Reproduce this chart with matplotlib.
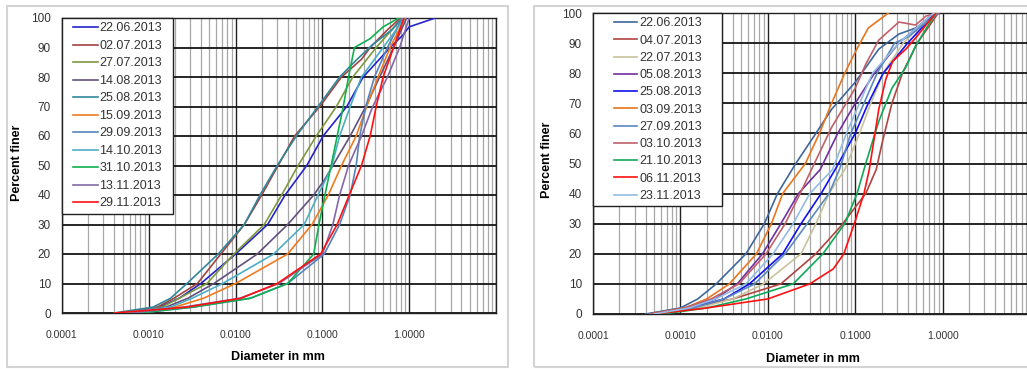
import matplotlib
matplotlib.use("Agg")
import matplotlib.pyplot as plt
from matplotlib.patches import Rectangle
from matplotlib.ticker import FixedLocator, LogLocator, NullFormatter
from matplotlib.legend_handler import HandlerLine2D

plt.rcParams['font.family'] = ['Liberation Sans', 'DejaVu Sans']

# ---- left panel (grain size curves, diameter in mm / percent finer) ----
left_labels = ['22.06.2013', '02.07.2013', '27.07.2013', '14.08.2013', '25.08.2013', '15.09.2013',
               '29.09.2013', '14.10.2013', '31.10.2013', '13.11.2013', '29.11.2013']
left_colors = ['#2424C8', '#A0443E', '#7E9840', '#62507E', '#31869C', '#F07A1E',
               '#5584BC', '#4BAEC4', '#10B050', '#8468A6', '#FF1010']

l_2206_d = [0.0005, 0.00132, 0.00224, 0.00398, 0.0100, 0.0234, 0.0372, 0.0661, 0.102, 0.191, 0.295, 0.603, 0.832, 1.0, 2.0]
l_2206_p = [0, 2, 5, 10, 20, 30, 40, 50, 60, 70, 80, 90, 94, 97, 100]
l_0207_d = [0.00045, 0.00126, 0.00195, 0.00363, 0.00676, 0.0126, 0.0200, 0.0309, 0.0479, 0.0933, 0.166, 0.282, 0.355, 0.562, 0.794]
l_0207_p = [0, 2, 5, 10, 20, 30, 40, 50, 60, 70, 80, 86, 90, 96, 100]
l_2707_d = [0.0005, 0.00141, 0.00224, 0.00468, 0.00955, 0.0214, 0.0339, 0.0525, 0.0851, 0.145, 0.224, 0.417, 0.832]
l_2707_p = [0, 2, 5, 10, 20, 30, 40, 50, 60, 70, 80, 90, 100]
l_1408_d = [0.0005, 0.00158, 0.00282, 0.00562, 0.0178, 0.0398, 0.0794, 0.105, 0.132, 0.209, 0.316, 0.457, 0.661, 0.933]
l_1408_p = [0, 2, 5, 10, 20, 30, 40, 45, 50, 60, 70, 80, 90, 100]
l_2508_d = [0.0004, 0.00112, 0.00178, 0.00275, 0.00631, 0.0126, 0.0191, 0.0302, 0.0501, 0.0891, 0.158, 0.251, 0.380, 0.631, 0.832]
l_2508_p = [0, 2, 5, 10, 20, 30, 40, 50, 60, 70, 80, 86, 91, 96, 100]
l_1509_d = [0.00063, 0.0020, 0.00427, 0.0100, 0.0398, 0.0759, 0.117, 0.166, 0.245, 0.324, 0.437, 0.603, 0.891]
l_1509_p = [0, 2, 5, 10, 20, 30, 40, 50, 60, 70, 80, 90, 100]
l_2909_d = [0.00079, 0.00331, 0.0148, 0.0398, 0.105, 0.158, 0.209, 0.245, 0.269, 0.316, 0.398, 0.562, 0.832]
l_2909_p = [0, 2, 5, 10, 20, 30, 40, 50, 60, 70, 80, 90, 100]
l_1410_d = [0.0005, 0.00178, 0.00316, 0.00708, 0.0275, 0.0617, 0.0891, 0.126, 0.158, 0.209, 0.282, 0.501, 0.891]
l_1410_p = [0, 2, 5, 10, 20, 30, 40, 49, 60, 70, 80, 90, 100]
l_3110_d = [0.00079, 0.00316, 0.0148, 0.0398, 0.0794, 0.0912, 0.107, 0.126, 0.148, 0.174, 0.200, 0.234, 0.355, 0.501, 0.759]
l_3110_p = [0, 2, 5, 10, 20, 30, 40, 50, 60, 70, 80, 90, 93, 97, 100]
l_1311_d = [0.00063, 0.00251, 0.0112, 0.0316, 0.100, 0.132, 0.158, 0.200, 0.282, 0.380, 0.562, 0.776, 1.0]
l_1311_p = [0, 2, 5, 10, 20, 30, 40, 50, 60, 70, 80, 90, 100]
l_2911_d = [0.0004, 0.00275, 0.0115, 0.0302, 0.0955, 0.148, 0.204, 0.282, 0.355, 0.417, 0.501, 0.661, 0.871]
l_2911_p = [0, 2, 5, 10, 20, 30, 40, 50, 60, 70, 80, 90, 100]

# ---- right panel ----
right_labels = ['22.06.2013', '04.07.2013', '22.07.2013', '05.08.2013', '25.08.2013', '03.09.2013',
                '27.09.2013', '03.10.2013', '21.10.2013', '06.11.2013', '23.11.2013']
right_colors = ['#3E679C', '#B0443F', '#C8C29C', '#7030A0', '#1010F0', '#E8761E',
                '#5A88C0', '#C0606A', '#10A858', '#FF1010', '#93BCE4']

r_2206_d = [0.0004, 0.0010, 0.00158, 0.00257, 0.00562, 0.00912, 0.0129, 0.0209, 0.0355, 0.0537, 0.100, 0.186, 0.316, 0.490, 0.912]
r_2206_p = [0, 2, 5, 10, 20, 30, 40, 50, 60, 68, 77, 88, 93, 95, 100]
r_0407_d = [0.0005, 0.00126, 0.00398, 0.0141, 0.0355, 0.0676, 0.132, 0.174, 0.204, 0.263, 0.347, 0.513, 0.891]
r_0407_p = [0, 2, 5, 10, 20, 29, 40, 48, 57, 70, 80, 90, 100]
r_2207_d = [0.0005, 0.00158, 0.00398, 0.00891, 0.0240, 0.0355, 0.0501, 0.0759, 0.112, 0.151, 0.209, 0.355, 0.794]
r_2207_p = [0, 2, 5, 10, 20, 30, 40, 48, 60, 70, 80, 90, 100]
r_0508_d = [0.00045, 0.00112, 0.00251, 0.00447, 0.00871, 0.0141, 0.0224, 0.0398, 0.0631, 0.100, 0.166, 0.316, 0.794]
r_0508_p = [0, 2, 5, 10, 20, 30, 40, 48, 60, 70, 80, 90, 100]
r_2508_d = [0.0005, 0.00126, 0.00316, 0.00617, 0.0148, 0.0240, 0.0407, 0.0589, 0.100, 0.141, 0.209, 0.398, 0.832]
r_2508_p = [0, 2, 5, 10, 20, 30, 40, 48, 60, 70, 80, 90, 100]
r_0309_d = [0.00045, 0.00112, 0.0020, 0.00363, 0.00741, 0.0110, 0.0148, 0.0269, 0.0389, 0.0537, 0.0759, 0.100, 0.141, 0.240]
r_0309_p = [0, 2, 5, 10, 20, 30, 40, 50, 60, 70, 80, 87, 95, 100]
r_2709_d = [0.0005, 0.00141, 0.00316, 0.00708, 0.0158, 0.0282, 0.0501, 0.0661, 0.0891, 0.126, 0.178, 0.282, 0.398, 0.891]
r_2709_p = [0, 2, 5, 10, 20, 30, 40, 48, 60, 70, 80, 90, 92, 100]
r_0310_d = [0.00045, 0.00112, 0.00224, 0.00468, 0.00955, 0.0158, 0.0234, 0.0316, 0.0537, 0.100, 0.132, 0.186, 0.316, 0.490, 0.646, 0.891]
r_0310_p = [0, 2, 5, 10, 20, 30, 40, 48, 62, 75, 83, 91, 97, 96, 99, 100]
r_2110_d = [0.00063, 0.0020, 0.00562, 0.0195, 0.0427, 0.0759, 0.105, 0.132, 0.186, 0.263, 0.380, 0.490, 0.832]
r_2110_p = [0, 2, 5, 10, 20, 30, 40, 50, 64, 75, 82, 89, 100]
r_0611_d = [0.0005, 0.0020, 0.0100, 0.0302, 0.0562, 0.0741, 0.0977, 0.126, 0.145, 0.186, 0.224, 0.269, 0.380, 0.501, 0.832]
r_0611_p = [0, 2, 5, 10, 15, 20, 30, 40, 48, 68, 78, 84, 88, 92, 100]
r_2311_d = [0.0005, 0.00126, 0.00251, 0.00562, 0.0115, 0.0195, 0.0302, 0.0550, 0.0794, 0.112, 0.158, 0.316, 0.794]
r_2311_p = [0, 2, 5, 10, 20, 30, 40, 48, 60, 70, 80, 90, 100]

left_d = [l_2206_d, l_0207_d, l_2707_d, l_1408_d, l_2508_d, l_1509_d, l_2909_d, l_1410_d, l_3110_d, l_1311_d, l_2911_d]
left_p = [l_2206_p, l_0207_p, l_2707_p, l_1408_p, l_2508_p, l_1509_p, l_2909_p, l_1410_p, l_3110_p, l_1311_p, l_2911_p]
right_d = [r_2206_d, r_0407_d, r_2207_d, r_0508_d, r_2508_d, r_0309_d, r_2709_d, r_0310_d, r_2110_d, r_0611_d, r_2311_d]
right_p = [r_2206_p, r_0407_p, r_2207_p, r_0508_p, r_2508_p, r_0309_p, r_2709_p, r_0310_p, r_2110_p, r_0611_p, r_2311_p]

x_ticks = [0.0001, 0.001, 0.01, 0.1, 1.0, 10.0]
x_ticklabels = ['0.0001', '0.0010', '0.0100', '0.1000', '1.0000', '']
y_ticks = list(range(0, 101, 10))

W, H = 1027, 369


def px(x0, y0, w, h):
    # pixel box (top-left origin) -> figure fraction
    return [x0 / W, 1 - (y0 + h) / H, w / W, h / H]


def draw_panel(ax, ds, ps, labels, colors, leg_w, leg_xpad, leg_hlen, leg_space):
    for d, p, lab, c in zip(ds, ps, labels, colors):
        ax.plot(d, p, color=c, lw=1.2, label=lab, zorder=3)
    ax.set_xscale('log')
    ax.set_xlim(1e-4, 10)
    ax.set_ylim(0, 100)
    ax.xaxis.set_major_locator(FixedLocator(x_ticks))
    ax.set_xticklabels(x_ticklabels)
    ax.xaxis.set_minor_locator(LogLocator(base=10, subs=range(2, 10)))
    ax.xaxis.set_minor_formatter(NullFormatter())
    ax.set_yticks(y_ticks)
    ax.grid(which='major', axis='x', color='#202020', lw=1.0, zorder=1)
    ax.grid(which='minor', axis='x', color='#A8A8A8', lw=0.9, zorder=0)
    ax.grid(which='major', axis='y', color='#151515', lw=1.3, zorder=1)
    ax.tick_params(which='both', length=0)
    ax.tick_params(axis='x', pad=12, labelsize=7.5, labelcolor='#333333')
    ax.tick_params(axis='y', pad=8, labelsize=8.5, labelcolor='#333333')
    for s in ax.spines.values():
        s.set_color('#202020')
        s.set_linewidth(1.0)
    leg = ax.legend(loc='upper left', bbox_to_anchor=(0, 1, leg_w, 0), mode='expand',
                    borderaxespad=0, fontsize=9, frameon=True, fancybox=False, framealpha=1,
                    edgecolor='#202020', labelspacing=leg_space, handlelength=leg_hlen,
                    handletextpad=0.15, borderpad=0.35,
                    handler_map={plt.Line2D: HandlerLine2D(xpad=leg_xpad)})
    leg.get_frame().set_linewidth(1.0)
    for t in leg.get_texts():
        t.set_color('#333333')
    leg.set_zorder(5)


fig = plt.figure(figsize=(W / 100, H / 100), dpi=100)

# chart area frames
fig.patches.append(Rectangle((7 / W, 1 - 367 / H), 501 / W, 361 / H, transform=fig.transFigure,
                             fill=False, edgecolor='#D4D4D4', lw=1.5))
fig.patches.append(Rectangle((534 / W, 1 - 367 / H), 500 / W, 361 / H, transform=fig.transFigure,
                             fill=False, edgecolor='#D4D4D4', lw=1.5))

ax1 = fig.add_axes(px(62, 18, 434, 295))
draw_panel(ax1, left_d, left_p, left_labels, left_colors, 111 / 434, 0.5, 2.5, 0.44)
ax2 = fig.add_axes(px(593, 13, 437, 301))
draw_panel(ax2, right_d, right_p, right_labels, right_colors, 129 / 437, 1.35, 3.2, 0.42)

fig.text(17.5 / W, 1 - 163 / H, 'Percent finer', rotation=90, ha='center', va='center',
         fontsize=9, fontweight='bold')
fig.text(547 / W, 1 - 160 / H, 'Percent finer', rotation=90, ha='center', va='center',
         fontsize=9, fontweight='bold')
fig.text(278 / W, 1 - 357 / H, 'Diameter in mm', ha='center', va='center',
         fontsize=9, fontweight='bold')
fig.text(813 / W, 1 - 359 / H, 'Diameter in mm', ha='center', va='center',
         fontsize=9, fontweight='bold')

fig.savefig('out.png', dpi=100)
